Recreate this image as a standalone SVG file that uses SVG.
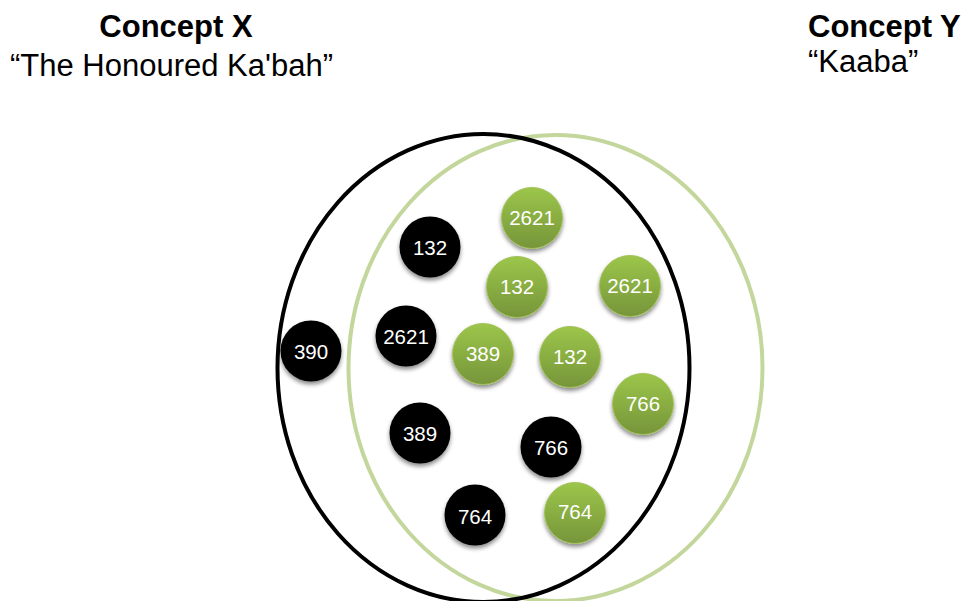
<svg xmlns="http://www.w3.org/2000/svg" width="967" height="601" viewBox="0 0 967 601">
  <defs>
    <linearGradient id="greenFill" x1="0" y1="0" x2="0" y2="1">
      <stop offset="0" stop-color="#9cc64a"/>
      <stop offset="1" stop-color="#76953a"/>
    </linearGradient>
    <filter id="shadow" x="-30%" y="-30%" width="160%" height="170%">
      <feDropShadow dx="0" dy="3" stdDeviation="2.2" flood-color="#000" flood-opacity="0.45"/>
    </filter>
  </defs>
  <style>
    .title { font-family: "Liberation Sans", Arial, sans-serif; font-size: 31px; font-weight: bold; fill: #000; }
    .sub { font-family: "Liberation Sans", Arial, sans-serif; font-size: 31px; fill: #000; }
    .set { fill: none; stroke-width: 4; }
    .black { fill: #000; filter: url(#shadow); }
    .green { fill: url(#greenFill); stroke: #a3c25c; stroke-width: 1; filter: url(#shadow); }
    .num { font-family: "Liberation Sans", Arial, sans-serif; font-size: 20.5px; fill: #fff; text-anchor: middle; }
  </style>

  <rect width="967" height="601" fill="#fff"/>

  <!-- headings -->
  <g id="label-x">
    <text class="title" x="176" y="37" text-anchor="middle">Concept X</text>
    <text class="sub" x="10" y="76">“The Honoured Ka'bah”</text>
  </g>
  <g id="label-y">
    <text class="title" x="808" y="37">Concept Y</text>
    <text class="sub" x="808" y="72">“Kaaba”</text>
  </g>

  <!-- the two sets -->
  <g id="sets">
    <ellipse id="set-y" class="set" cx="555.5" cy="368" rx="207" ry="233" stroke="#c3d69b"/>
    <ellipse id="set-x" class="set" cx="483.5" cy="368" rx="206" ry="234" stroke="#000"/>
  </g>

  <!-- members of concept X -->
  <g id="x-132"><circle class="black" cx="430" cy="247" r="30.5"/><text class="num" x="430" y="255">132</text></g>
  <g id="x-2621"><circle class="black" cx="406" cy="336" r="30.5"/><text class="num" x="406" y="344">2621</text></g>
  <g id="x-390"><circle class="black" cx="311" cy="351" r="30.5"/><text class="num" x="311" y="359">390</text></g>
  <g id="x-389"><circle class="black" cx="420" cy="433" r="30.5"/><text class="num" x="420" y="441">389</text></g>
  <g id="x-766"><circle class="black" cx="551" cy="447" r="30.5"/><text class="num" x="551" y="455">766</text></g>
  <g id="x-764"><circle class="black" cx="475" cy="515" r="30.5"/><text class="num" x="475" y="524">764</text></g>

  <!-- members of concept Y -->
  <g id="y-2621a"><circle class="green" cx="532" cy="218" r="30.5"/><text class="num" x="532" y="225">2621</text></g>
  <g id="y-132a"><circle class="green" cx="517" cy="287" r="30.5"/><text class="num" x="517" y="294">132</text></g>
  <g id="y-2621b"><circle class="green" cx="630" cy="286" r="30.5"/><text class="num" x="630" y="293">2621</text></g>
  <g id="y-389"><circle class="green" cx="483" cy="354" r="30.5"/><text class="num" x="483" y="361">389</text></g>
  <g id="y-132b"><circle class="green" cx="570" cy="357" r="30.5"/><text class="num" x="570" y="364">132</text></g>
  <g id="y-766"><circle class="green" cx="643" cy="404" r="30.5"/><text class="num" x="643" y="411">766</text></g>
  <g id="y-764"><circle class="green" cx="575" cy="513" r="30.5"/><text class="num" x="575" y="519">764</text></g>
</svg>
